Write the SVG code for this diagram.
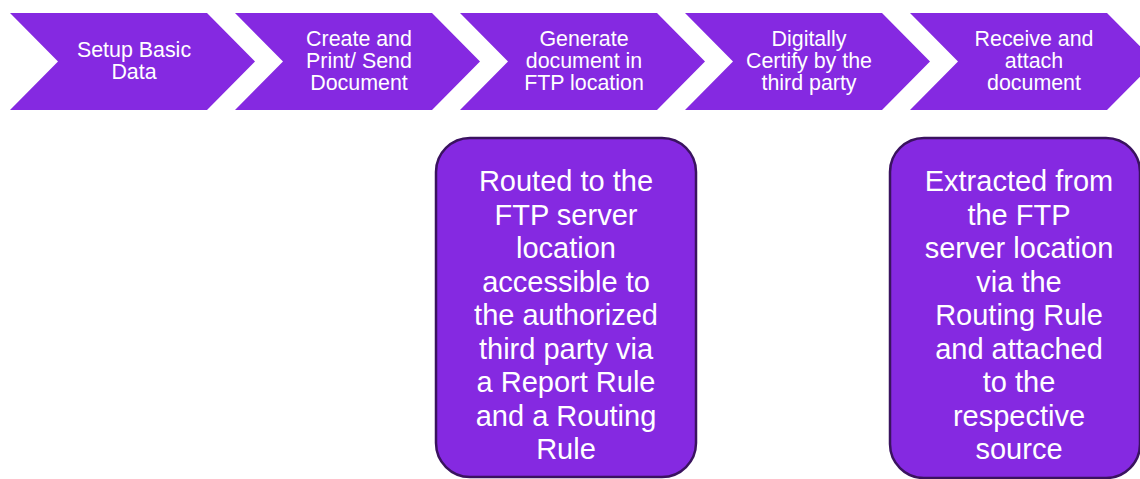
<svg xmlns="http://www.w3.org/2000/svg" width="1140" height="479" viewBox="0 0 1140 479">
<style>
.chev{fill:#8529e1;}
.box{fill:#8529e1;stroke:#3a135f;stroke-width:2.5;}
.t{font-family:"Liberation Sans",Arial,sans-serif;fill:#ffffff;text-anchor:middle;}
.ts{font-size:21.4px;}
.tb{font-size:29px;}
</style>
<defs>
<path id="chevron" d="M0,0 H197 L245,48.5 L197,97 H0 L48,48.5 Z"/>
</defs>
<rect width="1140" height="479" fill="#ffffff"/>
<g id="connectors"></g>
<g id="step1">
<use href="#chevron" class="chev" x="10" y="13"/>
<text class="t ts" x="134"><tspan x="134" y="57">Setup Basic</tspan><tspan x="134" y="79">Data</tspan></text>
</g>
<g id="step2">
<use href="#chevron" class="chev" x="235" y="13"/>
<text class="t ts"><tspan x="359" y="46">Create and</tspan><tspan x="359" y="68">Print/ Send</tspan><tspan x="359" y="90">Document</tspan></text>
</g>
<g id="step3">
<use href="#chevron" class="chev" x="460" y="13"/>
<text class="t ts"><tspan x="584" y="46">Generate</tspan><tspan x="584" y="68">document in</tspan><tspan x="584" y="90">FTP location</tspan></text>
</g>
<g id="step4">
<use href="#chevron" class="chev" x="685" y="13"/>
<text class="t ts"><tspan x="809" y="46">Digitally</tspan><tspan x="809" y="68">Certify by the</tspan><tspan x="809" y="90">third party</tspan></text>
</g>
<g id="step5">
<use href="#chevron" class="chev" x="910" y="13"/>
<text class="t ts"><tspan x="1034" y="46">Receive and</tspan><tspan x="1034" y="68">attach</tspan><tspan x="1034" y="90">document</tspan></text>
</g>
<g id="detail3">
<rect class="box" x="436" y="138" width="260" height="339" rx="34" ry="34"/>
<text class="t tb"><tspan x="566" y="191">Routed to the</tspan><tspan x="566" y="224.5">FTP server</tspan><tspan x="566" y="258">location</tspan><tspan x="566" y="291.5">accessible to</tspan><tspan x="566" y="325">the authorized</tspan><tspan x="566" y="358.5">third party via</tspan><tspan x="566" y="392">a Report Rule</tspan><tspan x="566" y="425.5">and a Routing</tspan><tspan x="566" y="459">Rule</tspan></text>
</g>
<g id="detail5">
<rect class="box" x="890" y="138" width="250" height="340" rx="34" ry="34"/>
<text class="t tb"><tspan x="1019" y="191">Extracted from</tspan><tspan x="1019" y="224.5">the FTP</tspan><tspan x="1019" y="258">server location</tspan><tspan x="1019" y="291.5">via the</tspan><tspan x="1019" y="325">Routing Rule</tspan><tspan x="1019" y="358.5">and attached</tspan><tspan x="1019" y="392">to the</tspan><tspan x="1019" y="425.5">respective</tspan><tspan x="1019" y="459">source</tspan></text>
</g>
</svg>
